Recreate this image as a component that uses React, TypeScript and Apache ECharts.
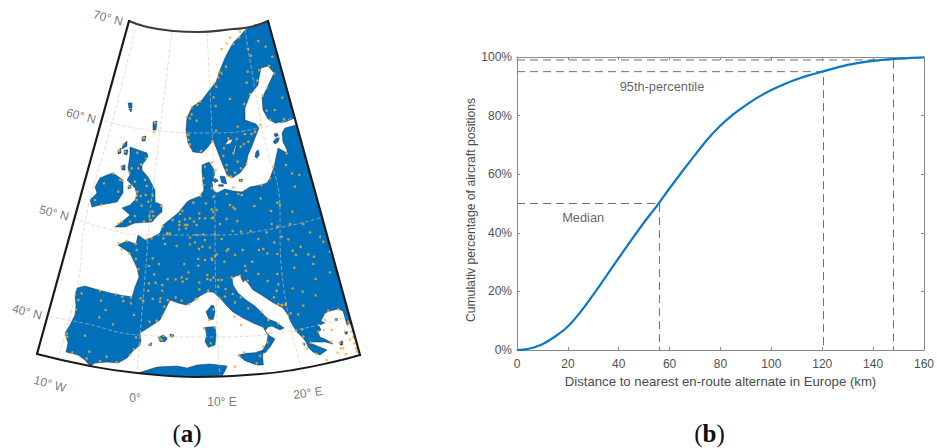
import React, { useEffect, useRef } from "react";
import * as echarts from "echarts";

type P = number[];
const fromCrop = (ox: number, oy: number, pts: P[]): P[] => pts.map(([x, y]) => [ox + x / 3, oy + y / 3]);

// ---------- panel (b) data ----------
const distanceKm = [0, 2.5, 5, 10, 15, 20, 25, 30, 35, 40, 45, 50, 55, 60, 65, 70, 75, 80, 85, 90, 95, 100, 105, 110, 115, 120, 125, 130, 135, 140, 145, 150, 155, 160];
const cumulativePct = [0, 0.15, 0.5, 2, 4.6, 8, 13, 18.9, 25.1, 31.4, 37.6, 43.6, 49.2, 55.2, 61, 66.6, 72, 76.6, 80.4, 83.6, 86.4, 88.7, 90.7, 92.4, 93.8, 95, 96.2, 97.3, 98.1, 98.7, 99.1, 99.4, 99.7, 99.85];
const medianKm = 56;
const p95Km = 120.5;
const p99Km = 148;
const xTicks = { min: 0, max: 160, step: 20 };
const yTicks = { min: 0, max: 100, step: 20 };
const chartLabels = [
  { text: "95th-percentile", x: 57, y: 90 },
  { text: "Median", x: 26, y: 45.2 },
];

// ---------- panel (a) data, in picture units ----------
const frameTop: P[] = [[129, 21], [147, 27], [173, 31], [198, 32], [233, 29], [250, 27], [268, 21]];
const frameBottom: P[] = [[37, 354], [90, 366], [137, 373], [198, 377], [260, 374], [293, 370], [333, 362], [360, 355]];
const frameLeft: P[] = [[129, 21], [37, 354]];
const frameRight: P[] = [[268, 21], [360, 355]];

const meridians: P[][] = [
  [[135, 30], [112, 123], [85, 222], [78, 283], [57, 360]],
  [[172, 32], [160, 130], [150, 213], [148, 240], [137, 372]],
  [[207, 33], [212, 133], [215, 220], [215, 240], [220, 376]],
  [[245, 30], [263, 133], [280, 213], [280, 237], [302, 370]],
];
const parallels: P[][] = [
  [[105, 121], [157, 131], [210, 133], [260, 128], [294, 117]],
  [[75, 218], [100, 227], [147, 235], [213, 235], [277, 228], [323, 217]],
  [[50, 317], [83, 323], [140, 335], [213, 337], [277, 333], [347, 317]],
];

const mainland: P[] = [
  [296, 125], [351, 321], [347, 325], [345, 318], [343, 311], [338, 309], [330, 311], [325, 313], [323, 317], [321, 321], [325, 323], [320, 325], [317, 322], [321, 330], [318, 332], [320, 337], [327, 340], [333, 344], [325, 342], [318, 342], [312, 342], [310, 343], [327, 350], [320, 355], [313, 352], [308, 347], [306, 342], [303, 338], [297, 332], [293, 326], [290, 320], [288, 315], [283, 308], [272, 302], [263, 296], [253, 290], [248, 283], [245, 280], [243, 282], [240, 275], [236, 276], [232, 278], [233, 285], [238, 293], [246, 300], [255, 306], [262, 313], [268, 319], [276, 322], [284, 328], [280, 330], [272, 326], [268, 327], [265, 331], [270, 336], [275, 339], [270, 347], [265, 353], [262, 352], [267, 342], [268, 335], [263, 327], [253, 323], [243, 318], [233, 312], [226, 305], [220, 298], [213, 292], [207, 292], [200, 296], [192, 302], [186, 305], [178, 303], [170, 300], [165, 310], [160, 320], [148, 328], [140, 333], [141, 340], [140, 345], [133, 351], [127, 358], [118, 363], [107, 362], [95, 363], [90, 366], [85, 360], [78, 355], [66, 352], [68, 343], [65, 333], [70, 325], [75, 315], [76, 305], [75, 295], [77, 288], [85, 286], [95, 289], [110, 293], [120, 295], [132, 297], [135, 287], [139, 277], [137, 268], [130, 253], [118, 245], [127, 241], [136, 244], [138, 235], [145, 240], [153, 237], [160, 233], [162, 228], [163, 225], [178, 213], [187, 202], [190, 200], [200, 196], [204, 190], [203, 183], [202, 172], [202, 165], [209, 162], [213, 168], [215, 173], [212, 182], [213, 190], [217, 193], [225, 189], [233, 191], [242, 192], [250, 187], [260, 185], [267, 183], [270, 178], [274, 167], [278, 148], [287, 153], [287, 150], [283, 142], [282, 133], [285, 128],
];
const scandinavia: P[] = [
  [268, 21], [295, 118], [285, 122], [275, 123], [268, 119], [263, 110], [262, 98], [267, 88], [274, 73], [268, 66], [261, 68], [259, 78], [258, 85], [250, 95], [245, 108], [245, 120], [256, 124], [259, 128], [255, 138], [252, 146], [248, 155], [246, 165], [240, 173], [232, 178], [227, 175], [222, 163], [217, 150], [213, 140], [208, 147], [202, 153], [193, 152], [188, 143], [186, 130], [187, 118], [192, 107], [202, 100], [208, 92], [216, 82], [220, 70], [225, 58], [228, 52], [233, 43], [241, 35], [245, 30], [250, 27], [260, 24],
];
const britain: P[] = [
  [130, 147], [147, 153], [148, 157], [142, 165], [142, 170], [148, 177], [155, 190], [155, 202], [162, 205], [162, 212], [158, 215], [152, 222], [135, 223], [125, 227], [115, 227], [123, 221], [130, 215], [122, 208], [130, 205], [135, 200], [137, 195], [135, 188], [127, 180], [130, 175], [128, 168], [130, 155],
];
const ireland: P[] = [
  [113, 173], [123, 180], [123, 193], [117, 202], [100, 205], [92, 207], [90, 200], [97, 193], [95, 187], [100, 178], [107, 175],
];
const africa: P[] = [
  [138, 373], [157, 367], [177, 366], [187, 368], [197, 365], [210, 364], [227, 366], [225, 371], [222, 376], [198, 377], [170, 376],
];
const corsica = fromCrop(180, 270, [[95, 105], [102, 108], [105, 125], [100, 148], [88, 150], [78, 125], [85, 118]]);
const sardinia = fromCrop(180, 270, [[75, 172], [105, 170], [108, 195], [105, 225], [85, 232], [75, 215], [80, 195]]);
const sicily = fromCrop(180, 270, [[175, 255], [200, 250], [225, 248], [250, 240], [248, 260], [250, 285], [230, 285], [195, 272]]);
const mallorca = fromCrop(50, 230, [[325, 322], [340, 315], [352, 325], [345, 335], [330, 335]]);
const menorca = fromCrop(50, 230, [[360, 312], [372, 315], [368, 322], [360, 320]]);
const ibiza = fromCrop(50, 230, [[296, 343], [305, 338], [305, 346], [297, 348]]);
const balticIslands = [
  [[125, 208], [135, 205], [145, 212], [135, 218]],
  [[150, 198], [165, 200], [170, 222], [155, 218]],
  [[145, 224], [160, 224], [160, 229], [147, 229]],
  [[207, 208], [217, 208], [217, 215], [208, 215]],
  [[258, 125], [265, 120], [268, 135], [260, 145], [255, 140]],
  [[310, 95], [318, 85], [328, 83], [325, 95], [315, 102]],
  [[312, 72], [322, 70], [325, 78], [315, 80]],
].map((p) => fromCrop(170, 110, p));
const northIslands: P[][] = [
  [[128, 103], [132, 103], [132, 108], [129, 108]],
  [[129, 109], [132, 109], [131, 112]],
  [[153, 122], [157, 121], [156, 130], [153, 130]],
  [[142, 137], [146, 136], [145, 141], [142, 141]],
  [[123, 145], [127, 141], [127, 146], [122, 149]],
  [[118, 150], [121, 148], [121, 153], [118, 154]],
  [[124, 150], [128, 150], [127, 155], [124, 154]],
  [[121, 166], [125, 165], [125, 170], [122, 170]],
  [[128, 186], [131, 185], [131, 188], [128, 189]],
];
const aegeanIslands = [
  [[210, 185], [218, 183], [218, 195], [210, 195]],
  [[225, 155], [232, 155], [232, 162], [225, 162]],
  [[238, 128], [243, 128], [243, 135]],
  [[100, 190], [105, 190], [103, 197]],
  [[195, 115], [202, 115], [202, 122], [195, 122]],
].map((p) => fromCrop(270, 280, p));
const lakes = [
  [[165, 105], [175, 90], [188, 88], [182, 100]],
  [[188, 132], [195, 110], [200, 102], [193, 130]],
].map((p) => fromCrop(170, 110, p));
const landParts: P[][] = [mainland, scandinavia, britain, ireland, africa, corsica, sardinia, sicily, mallorca, menorca, ibiza, ...balticIslands, ...northIslands, ...aegeanIslands];

const dotsNorth = fromCrop(170, 20, [[255, 15], [265, 63], [287, 80], [307, 110], [234, 87], [243, 107], [312, 160], [297, 138], [268, 150], [233, 155], [155, 160], [148, 155], [168, 140], [230, 188], [262, 182], [145, 172], [132, 190], [139, 200], [291, 203], [278, 227], [240, 222], [131, 232], [180, 237], [90, 245], [82, 255], [65, 262], [50, 290], [137, 258], [223, 252], [337, 233], [290, 272], [314, 270], [80, 302], [60, 295], [65, 283], [300, 300], [342, 297], [203, 320], [270, 315], [210, 35], [208, 52], [190, 72], [180, 52], [155, 87], [170, 70]]);
const dotsBaltic = fromCrop(170, 110, [[138, 62], [55, 75], [55, 90], [60, 103], [93, 123], [127, 93], [175, 85], [200, 87], [225, 72], [245, 72], [255, 65], [235, 95], [222, 102], [212, 110], [162, 115], [190, 130], [160, 138], [203, 155], [125, 157], [105, 170], [137, 180], [170, 165], [170, 180], [230, 160], [213, 175], [195, 188], [183, 200], [172, 198], [350, 130], [348, 165], [366, 190], [388, 195], [375, 230], [310, 170], [300, 205], [100, 205], [100, 225], [125, 235], [190, 232], [212, 212], [275, 225], [130, 260], [92, 258], [170, 252], [205, 252], [215, 255], [272, 265], [322, 278], [330, 285], [108, 280], [70, 278], [37, 303], [30, 312], [125, 298], [140, 300], [180, 285], [190, 292], [195, 297], [253, 288], [303, 303], [367, 305], [88, 310], [130, 305], [105, 325], [88, 325], [170, 327], [60, 325], [45, 328], [125, 325], [130, 322]]);
const dotsCentral = fromCrop(170, 200, [[8, 60], [28, 65], [72, 65], [150, 72], [202, 63], [28, 75], [45, 75], [52, 75], [80, 75], [27, 88], [48, 85], [305, 72], [322, 80], [360, 72], [400, 72], [0, 100], [80, 105], [100, 103], [135, 103], [188, 93], [213, 95], [242, 93], [290, 97], [420, 97], [335, 110], [450, 110], [460, 125], [60, 113], [75, 127], [60, 133], [105, 120], [155, 117], [265, 117], [355, 118], [313, 127], [97, 140], [87, 147], [120, 143], [20, 138], [175, 147], [170, 152], [218, 150], [267, 150], [280, 147], [292, 160], [322, 162], [368, 152], [392, 140], [378, 165], [415, 163], [432, 170], [480, 155], [140, 163], [135, 168], [195, 165], [85, 177], [105, 180], [125, 175], [127, 180], [163, 185], [43, 192], [85, 197], [247, 185], [225, 198], [430, 192], [373, 203], [228, 212], [55, 217], [480, 217], [112, 225], [265, 222], [322, 222], [130, 233], [112, 237], [122, 240], [145, 240], [155, 240], [35, 232], [50, 237], [38, 245], [17, 238], [88, 248], [437, 237], [293, 243], [325, 253], [185, 232], [210, 227], [233, 242], [145, 260], [88, 268], [167, 267], [320, 272], [368, 265], [398, 275], [115, 272], [188, 282], [437, 286], [312, 292], [17, 292], [80, 297], [148, 295], [165, 290], [212, 292]]);
const dotsWest = fromCrop(50, 230, [[205, 40], [230, 33], [257, 42], [215, 58], [237, 70], [260, 60], [258, 87], [265, 118], [290, 28], [305, 25], [340, 25], [345, 42], [352, 10], [308, 85], [327, 102], [297, 108], [313, 133], [353, 147], [297, 160], [317, 158], [337, 165], [295, 182], [337, 182], [272, 205], [280, 212], [243, 202], [217, 200], [220, 213], [243, 220], [198, 192], [150, 182], [95, 190], [85, 210], [153, 212], [78, 238], [167, 240], [148, 262], [252, 255], [189, 283], [105, 317], [50, 310], [52, 320], [258, 322], [298, 275], [338, 258], [320, 272], [343, 230], [353, 210], [308, 207], [331, 205], [330, 215], [300, 343], [330, 325], [365, 318], [335, 330], [67, 367], [118, 365], [110, 385], [170, 380], [150, 393], [200, 397], [240, 375], [252, 358], [270, 345]]);
const dotsBritain = fromCrop(80, 130, [[190, 25], [130, 42], [118, 62], [135, 65], [172, 68], [125, 112], [198, 85], [183, 103], [175, 115], [155, 115], [148, 128], [100, 130], [72, 160], [120, 150], [128, 152], [165, 155], [148, 170], [195, 150], [200, 168], [115, 185], [172, 185], [170, 197], [182, 198], [197, 195], [218, 197], [205, 215], [65, 225], [45, 210], [170, 210], [185, 227], [243, 228], [218, 245], [208, 258], [220, 258], [212, 270], [192, 275], [165, 258], [150, 275], [125, 275], [115, 280], [262, 312], [248, 290]]);
const dotsItaly = fromCrop(180, 270, [[5, 92], [27, 103], [48, 87], [100, 118], [88, 150], [72, 175], [92, 220], [105, 172], [165, 97], [205, 115], [163, 140], [183, 165], [245, 125], [265, 150], [295, 160], [305, 105], [318, 100], [262, 217], [265, 190], [250, 230], [178, 258], [192, 247], [240, 258], [230, 280], [165, 290]]);
const dotsBalkans = fromCrop(270, 280, [[100, 77], [85, 103], [62, 100], [25, 72], [37, 75], [47, 75], [205, 88], [175, 92], [197, 118], [165, 120], [235, 125], [185, 150], [162, 150], [145, 155], [97, 148], [78, 153], [225, 155], [245, 155], [100, 170], [250, 172], [240, 178], [122, 188], [100, 190], [110, 205], [183, 185], [210, 188], [213, 205], [220, 205], [203, 218], [228, 222], [253, 190], [140, 222], [170, 240], [260, 215], [258, 205], [235, 135]]);
const dotsIslands: P[] = [[154, 132], [155, 123], [144, 138], [119, 150]];
const alternates = [...dotsNorth, ...dotsBaltic, ...dotsCentral, ...dotsWest, ...dotsBritain, ...dotsItaly, ...dotsBalkans, ...dotsIslands];

const mapLabels = [
  { text: "70° N", x: 108, y: 18, rotate: -15 },
  { text: "60° N", x: 81, y: 116, rotate: -15 },
  { text: "50° N", x: 54, y: 213, rotate: -15 },
  { text: "40° N", x: 27, y: 312, rotate: -15 },
  { text: "10° W", x: 50, y: 384, rotate: -15 },
  { text: "0°", x: 135, y: 398, rotate: 0 },
  { text: "10° E", x: 222, y: 402, rotate: 0 },
  { text: "20° E", x: 308, y: 393, rotate: 8 },
];

const SANS = "'Liberation Sans', Arial, sans-serif";
const SERIF = "'Liberation Serif', 'Times New Roman', serif";
const AXIS = "#8a8a8a";
const TICK_TEXT = "#505050";
const LAND = "#0070ba";
const BLUE = "#0a78c8";

const mapLine = (data: P[], color: string, width: number, dashed: boolean, smooth: boolean, z: number) => ({
  type: "line",
  xAxisIndex: 2,
  yAxisIndex: 2,
  data,
  symbol: "none",
  smooth,
  silent: true,
  clip: false,
  z,
  lineStyle: { color, width, type: dashed ? [3, 3] : "solid", cap: "round" },
});
const guide = (data: P[]) => ({
  type: "line",
  xAxisIndex: 0,
  yAxisIndex: 0,
  data,
  symbol: "none",
  silent: true,
  z: 2,
  lineStyle: { color: "#6e6e6e", width: 1, type: [8, 5] },
});
const polygons = (parts: P[][], fill: string, stroke: string, z: number) => ({
  type: "custom",
  xAxisIndex: 2,
  yAxisIndex: 2,
  silent: true,
  clip: false,
  z,
  data: parts.map((_, i) => [i, 0]),
  renderItem: (_: any, api: any) => ({
    type: "polygon",
    shape: { points: parts[api.value(0)].map((p) => api.coord(p)) },
    style: { fill, stroke, lineWidth: 0.7, lineJoin: "round" },
  }),
});

export default function App() {
  const ref = useRef<HTMLDivElement>(null);
  useEffect(() => {
    document.body.style.margin = "0";
    document.body.style.background = "#fff";
    const chart = echarts.init(ref.current!, undefined, { renderer: "svg" });
    const hiddenX = { type: "value", gridIndex: 1, min: 0, max: 937, show: false };
    const hiddenY = { type: "value", gridIndex: 1, min: 0, max: 448, inverse: true, show: false };
    const boxLine = { show: true, onZero: false, lineStyle: { color: AXIS, width: 1 } };
    const tickIn = { show: true, inside: true, length: 3, lineStyle: { color: AXIS, width: 1 } };
    chart.setOption({
      animation: false,
      backgroundColor: "#fff",
      textStyle: { fontFamily: SANS },
      grid: [
        { left: 517, top: 57, width: 407, height: 293 },
        { left: 0, top: 0, width: 937, height: 448 },
      ],
      xAxis: [
        {
          type: "value", gridIndex: 0, position: "bottom", min: xTicks.min, max: xTicks.max, interval: xTicks.step,
          name: "Distance to nearest en-route alternate in Europe (km)", nameLocation: "middle", nameGap: 23,
          nameTextStyle: { fontFamily: SANS, fontSize: 13.2, color: "#4a4a4a" },
          axisLine: boxLine, axisTick: tickIn, splitLine: { show: false },
          axisLabel: { fontFamily: SANS, fontSize: 12, color: TICK_TEXT, margin: 8 },
        },
        {
          type: "value", gridIndex: 0, position: "top", min: xTicks.min, max: xTicks.max, interval: xTicks.step,
          axisLine: boxLine, axisTick: tickIn, axisLabel: { show: false }, splitLine: { show: false },
        },
        hiddenX,
      ],
      yAxis: [
        {
          type: "value", gridIndex: 0, position: "left", min: yTicks.min, max: yTicks.max, interval: yTicks.step,
          name: "Cumulativ percentage of aircraft positions", nameLocation: "middle", nameGap: 39, nameRotate: 90,
          nameTextStyle: { fontFamily: SANS, fontSize: 12.2, color: "#4a4a4a", padding: [0, 13, 0, 0] },
          axisLine: boxLine, axisTick: tickIn, splitLine: { show: false },
          axisLabel: { fontFamily: SANS, fontSize: 12, color: TICK_TEXT, margin: 5, formatter: "{value}%" },
        },
        {
          type: "value", gridIndex: 0, position: "right", min: yTicks.min, max: yTicks.max, interval: yTicks.step,
          axisLine: boxLine, axisTick: tickIn, axisLabel: { show: false }, splitLine: { show: false },
        },
        hiddenY,
      ],
      series: [
        guide([[0, 50], [medianKm, 50], [medianKm, 0]]),
        guide([[0, 95], [p95Km, 95], [p95Km, 0]]),
        guide([[0, 99], [p99Km, 99], [p99Km, 0]]),
        {
          type: "line", xAxisIndex: 0, yAxisIndex: 0, symbol: "none", smooth: 0.2, silent: true, z: 3,
          data: distanceKm.map((d, i) => [d, cumulativePct[i]]),
          lineStyle: { color: BLUE, width: 2.2 },
        },
        {
          type: "scatter", xAxisIndex: 0, yAxisIndex: 0, symbolSize: 0, silent: true, z: 4,
          data: chartLabels.map((l) => ({ value: [l.x, l.y], name: l.text })),
          label: { show: true, position: "inside", formatter: "{b}", fontFamily: SANS, fontSize: 12.8, color: "#3a3a3a" },
        },
        polygons(landParts, LAND, "rgba(25,40,70,0.65)", 1),
        polygons(lakes, "#ffffff", "rgba(25,40,70,0.5)", 2),
        ...meridians.map((m) => mapLine(m, "rgba(200,200,200,0.8)", 0.8, true, true, 3)),
        ...parallels.map((m) => mapLine(m, "rgba(200,200,200,0.8)", 0.8, true, true, 3)),
        {
          type: "scatter", xAxisIndex: 2, yAxisIndex: 2, symbol: "circle", symbolSize: 2.6, silent: true, clip: false, z: 4,
          data: alternates,
          itemStyle: { color: "#f4ad2b" },
        },
        mapLine(frameTop, "#3c3c3c", 2.2, false, true, 5),
        mapLine(frameBottom, "#1a1a1a", 1.9, false, true, 5),
        mapLine(frameLeft, "#1a1a1a", 2.2, false, false, 5),
        mapLine(frameRight, "#1a1a1a", 2.2, false, false, 5),
        {
          type: "scatter", xAxisIndex: 2, yAxisIndex: 2, symbolSize: 0, silent: true, clip: false, z: 6,
          data: mapLabels.map((l) => ({
            value: [l.x, l.y],
            name: l.text,
            label: { rotate: l.rotate },
          })),
          label: { show: true, position: "inside", formatter: "{b}", fontFamily: SANS, fontSize: 12, color: "#555555" },
        },
      ],
      graphic: [
        { label: "a", x: 187 }, { label: "b", x: 709.5 },
      ].map((g) => ({
        type: "text",
        x: g.x,
        y: 433,
        style: {
          text: `{p|(}{b|${g.label}}{p|)}`,
          align: "center",
          verticalAlign: "middle",
          rich: {
            p: { fontFamily: SERIF, fontSize: 25, fill: "#111" },
            b: { fontFamily: SERIF, fontSize: 25, fontWeight: "bold", fill: "#111" },
          },
        },
      })),
    });
    return () => chart.dispose();
  }, []);
  return <div ref={ref} style={{ position: "absolute", left: 0, top: 0, width: 937, height: 448 }} />;
}
